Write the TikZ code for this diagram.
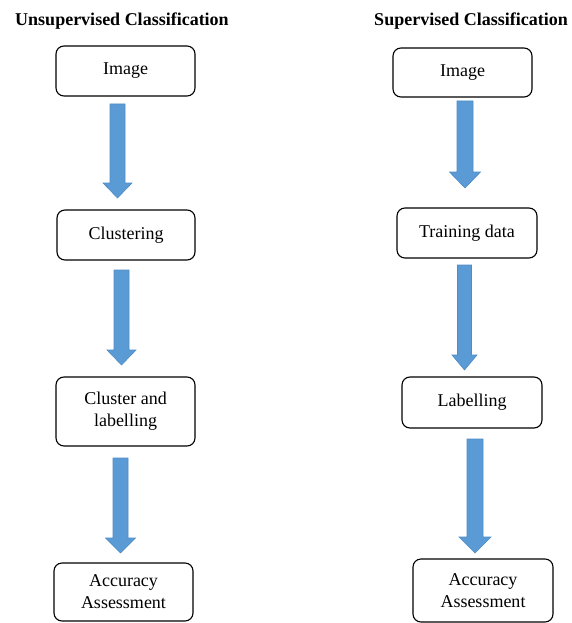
\documentclass[tikz,border=0pt]{standalone}
\usepackage{fontspec}
\setmainfont{Liberation Serif}
\definecolor{arrowblue}{HTML}{5B9BD5}
\definecolor{arrowedge}{HTML}{4F8CC6}
\newcommand{\blockarrow}[7]{% cx, top, headstart, bottom, shaft half, head half, name
  \draw[blockarr] (#1-#5,#2) coordinate (#7-top) -- (#1+#5,#2) -- (#1+#5,#3) -- (#1+#6,#3)
    -- (#1,#4) coordinate (#7-tip) -- (#1-#6,#3) -- (#1-#5,#3) -- cycle;}
\begin{document}
\begin{tikzpicture}[x=1pt,y=-1pt,
  stepbox/.style={draw=black, line width=1.1pt, rounded corners=8pt, align=center,
    font=\fontsize{18}{22}\selectfont, inner sep=0pt},
  heading/.style={font=\fontsize{18}{22}\selectfont\bfseries, inner sep=0pt},
  blockarr/.style={fill=arrowblue, draw=arrowedge, line width=0.6pt}]
\useasboundingbox (0,0) rectangle (572,623);
% titles
\node[heading] (lt) at (122,21) {Unsupervised Classification};
\node[heading] (rt) at (471,21) {Supervised Classification};
% left column
\node[stepbox, minimum width=139pt, minimum height=50pt] (l1) at (125.5,71) {Image};
\node[stepbox, minimum width=138pt, minimum height=50pt] (l2) at (126,235) {Clustering};
\node[stepbox, minimum width=139pt, minimum height=69pt] (l3) at (125.5,411.5) {Cluster and\\labelling};
\node[stepbox, minimum width=139pt, minimum height=58pt] (l4) at (123.5,592) {Accuracy\\Assessment};
% right column
\node[stepbox, minimum width=139pt, minimum height=49pt] (r1) at (462.5,72.5) {Image};
\node[stepbox, minimum width=140pt, minimum height=50pt] (r2) at (467,233) {Training data};
\node[stepbox, minimum width=140pt, minimum height=51pt] (r3) at (472,402.5) {Labelling};
\node[stepbox, minimum width=140pt, minimum height=63pt] (r4) at (483,590.5) {Accuracy\\Assessment};
% block arrows
\blockarrow{117.5}{104}{183}{198}{7.5}{14.5}{a1}
\blockarrow{121.5}{270}{350}{365}{7.5}{14.5}{a2}
\blockarrow{120.5}{458}{538}{553}{7.5}{15}{a3}
\blockarrow{465}{101}{172}{188}{8}{15.5}{b1}
\blockarrow{464.5}{265}{355}{370}{7}{12.5}{b2}
\blockarrow{475}{439}{537}{553}{8}{16}{b3}
\end{tikzpicture}
\end{document}
